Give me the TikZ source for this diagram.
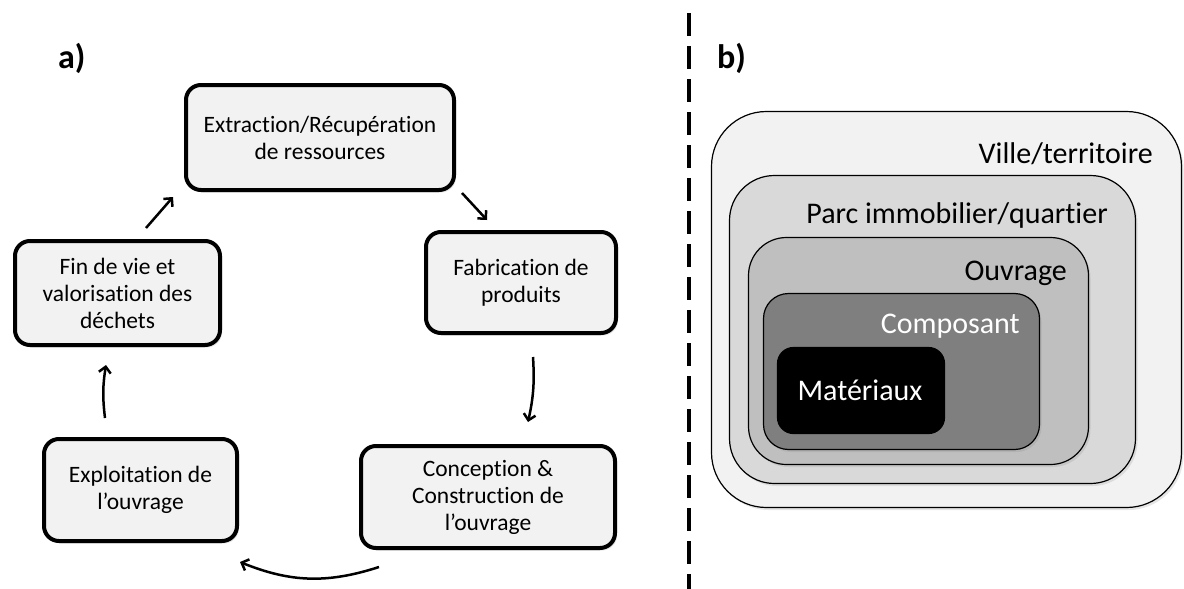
\documentclass[tikz,border=0pt]{standalone}
\usepackage{fontspec}
\setmainfont{Carlito}[Ligatures={NoCommon}]
\usetikzlibrary{arrows.meta,shadows,calc}
\definecolor{cF2}{HTML}{F2F2F2}
\definecolor{cD9}{HTML}{D9D9D9}
\definecolor{cBF}{HTML}{BFBFBF}
\definecolor{c7F}{HTML}{7F7F7F}
\begin{document}
\begin{tikzpicture}[x=1pt,y=-1pt,
  cyc/.style={draw=black, line width=4pt, fill=cF2, rounded corners=15pt, align=center,
    font=\fontsize{23.5}{27}\selectfont, inner sep=0pt,
    drop shadow={opacity=0.2,shadow xshift=2pt,shadow yshift=-2.5pt}},
  arr/.style={line width=2.5pt, -{Straight Barb[length=6pt,width=12pt]}},
  lvl/.style={draw=black, line width=1.2pt, rounded corners=#1, inner sep=0pt,
    drop shadow={opacity=0.2,shadow xshift=2pt,shadow yshift=-2.5pt}},
  lbl/.style={font=\fontsize{30}{36}\selectfont, inner sep=0pt, anchor=base east},
  ttl/.style={font=\fontsize{34}{40}\selectfont\bfseries, inner sep=0pt, anchor=base west},
]
\useasboundingbox (0,0) rectangle (1184,589);

% panel a
\node[ttl] (ta) at (58,68) {a)};
\node[cyc, minimum width=268pt, minimum height=105pt] (ext) at (320,137.5) {Extraction/Récupération\\de ressources};
\node[cyc, minimum width=190pt, minimum height=101pt] (fab) at (521,282.5) {Fabrication de\\produits};
\node[cyc, minimum width=254pt, minimum height=102pt] (con) at (488,497) {Conception \&\\Construction de\\l’ouvrage};
\node[cyc, minimum width=193pt, minimum height=102pt] (exp) at (140.5,490) {Exploitation de\\l’ouvrage};
\node[cyc, minimum width=205pt, minimum height=104pt] (fin) at (117.5,293) {Fin de vie et\\valorisation des\\déchets};

\draw[arr] ($(fin.north)+(28.5,-11)$) -- ($(ext.south west)+(-11,5)$);
\draw[arr] ($(ext.south east)+(6,1)$) -- ($(fab.north west)+(63,-10)$);
\draw[arr] ($(fab.south)+(12,22)$) to[bend left=8] ($(con.north)+(40,-22)$);
\draw[arr] ($(con.south west)+(20,17)$) to[bend left=20] ($(exp.south east)+(1,19)$);
\draw[arr] ($(exp.north)+(-35.5,-19)$) to[bend left=8] ($(fin.south)+(-11.5,18)$);

% separator
\coordinate (dtop) at (689,13);
\coordinate (dbot) at (689,589);
\draw[line width=3.5pt, dash pattern=on 23pt off 10pt] (dtop) -- (dbot);

% panel b
\node[ttl] (tb) at (717,68) {b)};
\node[lvl=55pt, fill=cF2, minimum width=470pt, minimum height=396pt] (ville) at (946.5,309.5) {};
\node[lvl=45pt, fill=cD9, minimum width=406pt, minimum height=308pt] (parc) at (932.5,329.5) {};
\node[lvl=38pt, fill=cBF, minimum width=340pt, minimum height=227pt] (ouv) at (918.5,351) {};
\node[lvl=25pt, fill=c7F, minimum width=276pt, minimum height=156pt] (comp) at (901.5,371.5) {};
\node[lvl=16pt, fill=black, minimum width=167pt, minimum height=86pt] (mat) at (861,390.5) {};

\node[lbl] (tville) at (1153,163) {Ville/territoire};
\node[lbl] (tparc) at (1108,223) {Parc immobilier/quartier};
\node[lbl] (touv) at (1067,280) {Ouvrage};
\node[lbl, text=white] (tcomp) at (1020,333) {Composant};
\node[lbl, anchor=base, text=white] (tmat) at (860,400) {Matériaux};
\end{tikzpicture}
\end{document}
